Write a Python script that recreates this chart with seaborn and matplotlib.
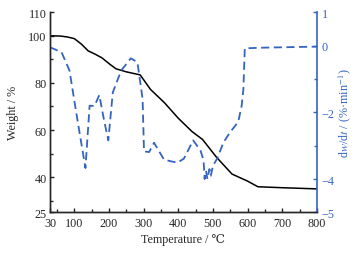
import numpy as np
import pandas as pd
import seaborn as sns
import matplotlib.pyplot as plt
from matplotlib.ticker import FixedLocator

# TG curve (weight %)
tg_temp = [30, 60, 80, 100, 120, 140, 160, 180, 200, 220, 250, 290, 320, 360,
           400, 440, 470, 510, 555, 600, 630, 700, 800]
tg_weight = [100, 99.9, 99.5, 98.8, 96.5, 93.6, 92.2, 90.6, 88.2, 86.0, 84.7, 83.4, 77.2, 71.6,
             65.0, 59.3, 56.0, 48.5, 41.3, 38.3, 35.9, 35.5, 35.0]

# DTG curve (%/min)
dtg_temp = [30, 63, 86, 110, 132, 144, 158, 172, 185, 198, 211, 235, 263, 282, 297, 301,
            316, 330, 359, 397, 416, 443, 464, 473, 476, 480, 484, 490, 494, 500,
            512, 531, 550, 573, 583, 588, 592, 650, 700, 750, 800]
dtg_rate = [-0.05, -0.2, -0.75, -2.3, -3.67, -1.8, -1.81, -1.48, -2.2, -2.84, -1.4, -0.75, -0.38, -0.5, -1.6, -3.17,
            -3.19, -2.91, -3.42, -3.51, -3.39, -2.84, -3.14, -3.44, -4.0, -3.75, -4.0, -3.7, -3.9, -3.6,
            -3.39, -2.89, -2.59, -2.29, -1.8, -1.3, -0.08, -0.06, -0.05, -0.04, -0.03]

sns.set_style('ticks')
plt.rcParams['font.family'] = ['Liberation Serif', 'DejaVu Serif', 'Noto Sans CJK SC']
plt.rcParams['mathtext.fontset'] = 'stix'
fs = 8.7

blue = '#3563c0'

fig = plt.figure(figsize=(3.58, 2.55), dpi=100)
ax = fig.add_axes([0.140, 0.163, 0.745, 0.785])
ax2 = ax.twinx()

tg = pd.DataFrame({'t': tg_temp, 'w': tg_weight})
dtg = pd.DataFrame({'t': dtg_temp, 'r': dtg_rate})
sns.lineplot(data=tg, x='t', y='w', ax=ax, color='black', lw=1.1)
sns.lineplot(data=dtg, x='t', y='r', ax=ax2, color=blue, lw=1.3)
ax2.lines[0].set_dashes([4.5, 2.5])

ax.set_xlim(30, 800)
ax.set_ylim(25, 110)
ax2.set_ylim(-5, 1)

ax.xaxis.set_major_locator(FixedLocator([30, 100, 200, 300, 400, 500, 600, 700, 800]))
ax.xaxis.set_minor_locator(FixedLocator([50, 150, 250, 350, 450, 550, 650, 750]))
ax.yaxis.set_major_locator(FixedLocator([25, 40, 60, 80, 100, 110]))
ax.yaxis.set_minor_locator(FixedLocator([30, 50, 70, 90]))
ax2.yaxis.set_major_locator(FixedLocator([-5, -4, -2, 0, 1]))
ax2.yaxis.set_minor_locator(FixedLocator([-3, -1]))

ax.tick_params(which='both', direction='in', width=1, labelsize=fs)
ax.tick_params(axis='x', pad=3.5)
ax.tick_params(axis='y', pad=2.5)
ax.tick_params(which='major', length=3)
ax.tick_params(which='minor', length=2.5)
ax2.tick_params(which='both', direction='in', width=1, labelsize=fs, pad=3.5,
                color=blue, labelcolor=blue)
ax2.tick_params(which='major', length=3)
ax2.tick_params(which='minor', length=2.5)

ax.set_xlabel('Temperature / ℃', fontsize=fs, labelpad=3)
ax.set_ylabel('Weight / %', fontsize=fs, labelpad=7)
ax2.set_ylabel(r'd$w$/d$t$ / (%·min$^{-1}$)', fontsize=fs, color=blue, labelpad=1)

for a in (ax, ax2):
    a.spines['top'].set_visible(False)
    a.spines['left'].set_linewidth(1)
    a.spines['bottom'].set_linewidth(1)
ax2.spines['right'].set_color(blue)
ax2.spines['right'].set_linewidth(1.2)
ax.spines['right'].set_visible(False)

fig.savefig('out.png', dpi=100)
